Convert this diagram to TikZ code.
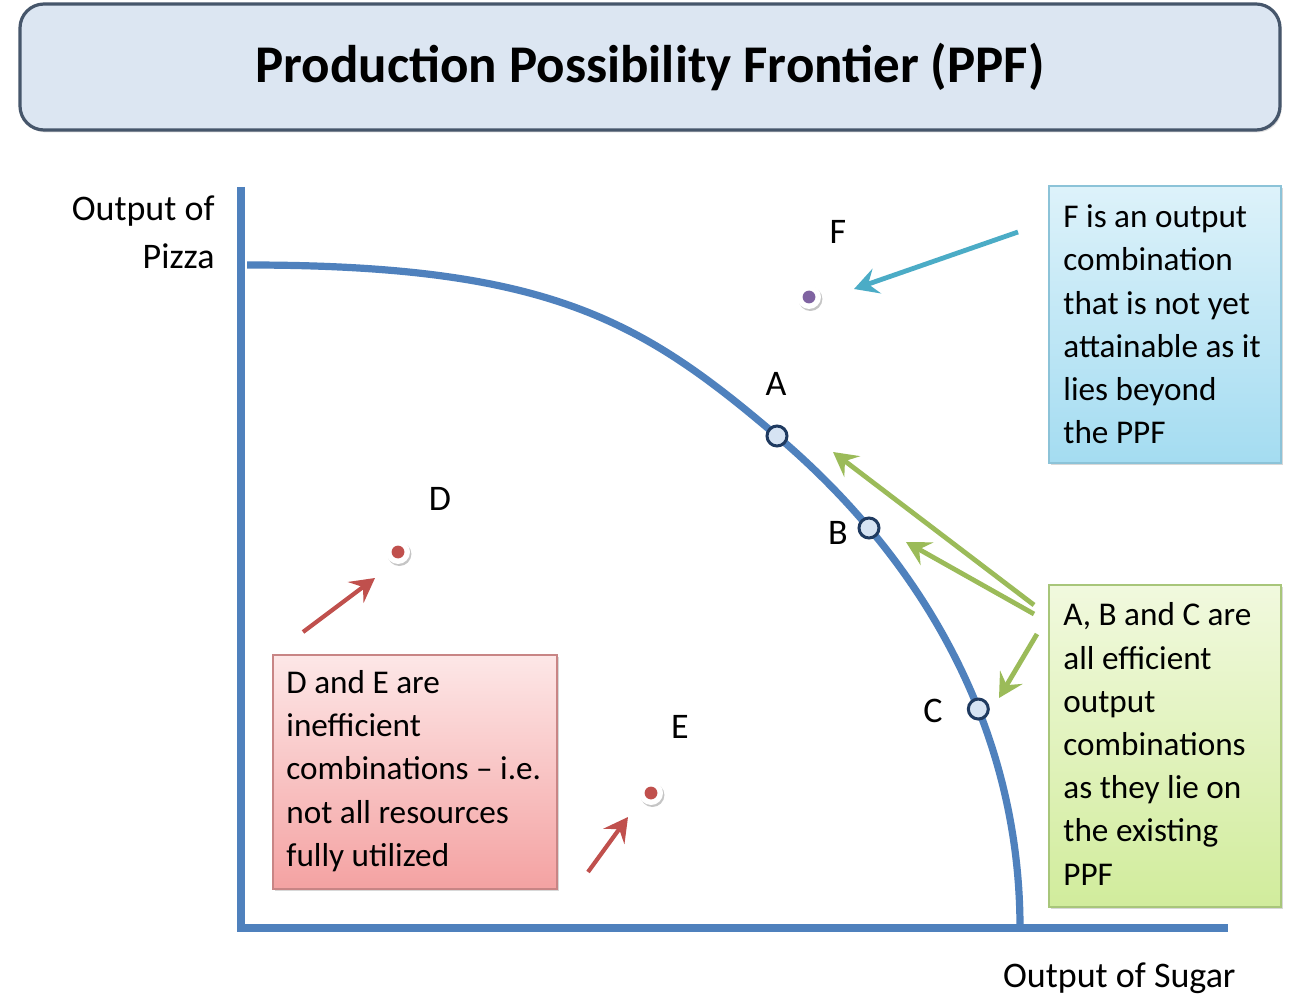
\documentclass[tikz,border=0pt]{standalone}
\usepackage{fontspec}
\setmainfont{Carlito}
\usetikzlibrary{arrows.meta,shadows}
\definecolor{axisblue}{HTML}{4F81BD}
\definecolor{titlefill}{HTML}{DCE6F2}
\definecolor{titledraw}{HTML}{46566B}
\definecolor{ptnavy}{HTML}{1F3A60}
\definecolor{ptfill}{HTML}{D6E3F3}
\definecolor{tealc}{HTML}{4BACC6}
\definecolor{greenc}{HTML}{9BBB59}
\definecolor{redc}{HTML}{C0504D}
\definecolor{purplec}{HTML}{7F63A1}
\definecolor{fboxtop}{HTML}{DDF2FA}
\definecolor{fboxbot}{HTML}{A4DCF1}
\definecolor{fboxdraw}{HTML}{8CC3D8}
\definecolor{gboxtop}{HTML}{F1F9DE}
\definecolor{gboxbot}{HTML}{D1EC9C}
\definecolor{gboxdraw}{HTML}{A8C67A}
\definecolor{rboxtop}{HTML}{FDE7E7}
\definecolor{rboxbot}{HTML}{F4A2A2}
\definecolor{rboxdraw}{HTML}{C88585}
\begin{document}
\begin{tikzpicture}[x=0.5pt,y=-0.5pt,
  titlebox/.style={draw=titledraw, line width=1.6pt, fill=titlefill, rounded corners=12pt,
    drop shadow={opacity=0.25, shadow xshift=0.8pt, shadow yshift=-1.2pt},
    font=\fontsize{26.5}{30}\selectfont\bfseries},
  axisline/.style={draw=axisblue, line width=4pt},
  ppfline/.style={draw=axisblue, line width=3.6pt},
  effpt/.style={circle, draw=ptnavy, fill=ptfill, line width=1.5pt, minimum size=10pt, inner sep=0pt},
  ineffpt/.style={circle, fill=white, minimum size=12pt, inner sep=0pt,
    drop shadow={opacity=0.45, shadow xshift=0.7pt, shadow yshift=-1pt}},
  ptlabel/.style={font=\fontsize{18}{20}\selectfont, inner sep=0pt},
  axlabel/.style={font=\fontsize{18}{24}\selectfont, inner sep=0pt},
  boxtext/.style={align=left, inner sep=0pt, font=\fontsize{16.6}{21.6}\selectfont},
  fboxstyle/.style={draw=fboxdraw, line width=0.6pt, shading=axis, top color=fboxtop, bottom color=fboxbot,
    drop shadow={opacity=0.3, shadow xshift=1pt, shadow yshift=-1.2pt}},
  gboxstyle/.style={draw=gboxdraw, line width=0.6pt, shading=axis, top color=gboxtop, bottom color=gboxbot,
    drop shadow={opacity=0.3, shadow xshift=1pt, shadow yshift=-1.2pt}},
  rboxstyle/.style={draw=rboxdraw, line width=0.6pt, shading=axis, top color=rboxtop, bottom color=rboxbot,
    drop shadow={opacity=0.3, shadow xshift=1pt, shadow yshift=-1.2pt}},
  arrowtip/.style={-{Stealth[length=12pt,width=13pt,inset=4.5pt]}},
  tealarrow/.style={arrowtip, draw=tealc, line width=2.4pt},
  greenarrow/.style={arrowtip, draw=greenc, line width=2.4pt},
  redarrow/.style={arrowtip, draw=redc, line width=2.1pt}
]
\useasboundingbox (0,0) rectangle (1294,999);
\fill[white] (0,0) rectangle (1294,999);

% title
\node[titlebox, minimum width=630pt, minimum height=63pt] (title) at (650,67) {Production Possibility Frontier (PPF)};

% axes
\coordinate (ytop) at (241,187);
\coordinate (orig) at (241,928);
\coordinate (xend) at (1228,928);
\draw[axisline] (ytop) -- (orig) -- (xend);

% PPF curve
\coordinate (s0) at (247,265);
\coordinate (pa) at (777,436);
\coordinate (e0) at (1020,928);
\draw[ppfline] (s0) .. controls (547,265) and (640,319) .. (pa)
  .. controls (922,559) and (1020,728) .. (e0) coordinate[pos=0.23] (pb) coordinate[pos=0.61] (pc);

% efficient points
\node[effpt] (A) at (pa) {};
\node[effpt] (B) at (pb) {};
\node[effpt] (C) at (pc) {};
\node[ptlabel] (lA) at (776,384) {A};
\node[ptlabel] (lB) at (838,533) {B};
\node[ptlabel] (lC) at (933,711) {C};

% inefficient / unattainable points
\node[ineffpt] (D) at (398,552) {};
\fill[redc] (D.center) circle (3.2pt);
\node[ineffpt] (E) at (651,793) {};
\fill[redc] (E.center) circle (3.2pt);
\node[ineffpt] (F) at (809,297) {};
\fill[purplec] (F.center) circle (3.2pt);
\node[ptlabel] (lD) at (440,499) {D};
\node[ptlabel] (lE) at (680,727) {E};
\node[ptlabel] (lF) at (838,232) {F};

% axis labels
\node[axlabel, align=right, anchor=east] (ylab) at (215,232) {Output of\\Pizza};
\node[axlabel, anchor=east] (xlab) at (1236,978) {Output of Sugar};

% text boxes
\node[fboxstyle, minimum width=116pt, minimum height=138.5pt] (fbox) at (1165,324.5) {};
\node[boxtext, anchor=west] (ftext) at (1063,324.5) {F is an output\\combination\\that is not yet\\attainable as it\\lies beyond\\the PPF};

\node[gboxstyle, minimum width=116pt, minimum height=161pt] (gbox) at (1165,746) {};
\node[boxtext, anchor=west] (gtext) at (1063,744) {A, B and C are\\all efficient\\output\\combinations\\as they lie on\\the existing\\PPF};

\node[rboxstyle, minimum width=142pt, minimum height=117pt] (rbox) at (415,772) {};
\node[boxtext, anchor=west] (rtext) at (286,771) {D and E are\\inefficient\\combinations -- i.e.\\not all resources\\fully utilized};

% arrows
\coordinate (ft) at (1018,232);
\coordinate (fh) at (854,289);
\draw[tealarrow] (ft) -- (fh);

\coordinate (g1t) at (1034,605);
\coordinate (g1h) at (833,452);
\coordinate (g2t) at (1034,614);
\coordinate (g2h) at (906,542);
\coordinate (g3t) at (1037,634);
\coordinate (g3h) at (999,698);
\draw[greenarrow] (g1t) -- (g1h);
\draw[greenarrow] (g2t) -- (g2h);
\draw[greenarrow] (g3t) -- (g3h);

\coordinate (r1t) at (303,632);
\coordinate (r1h) at (375,578);
\coordinate (r2t) at (588,872);
\coordinate (r2h) at (628,817);
\draw[redarrow] (r1t) -- (r1h);
\draw[redarrow] (r2t) -- (r2h);
\end{tikzpicture}
\end{document}
